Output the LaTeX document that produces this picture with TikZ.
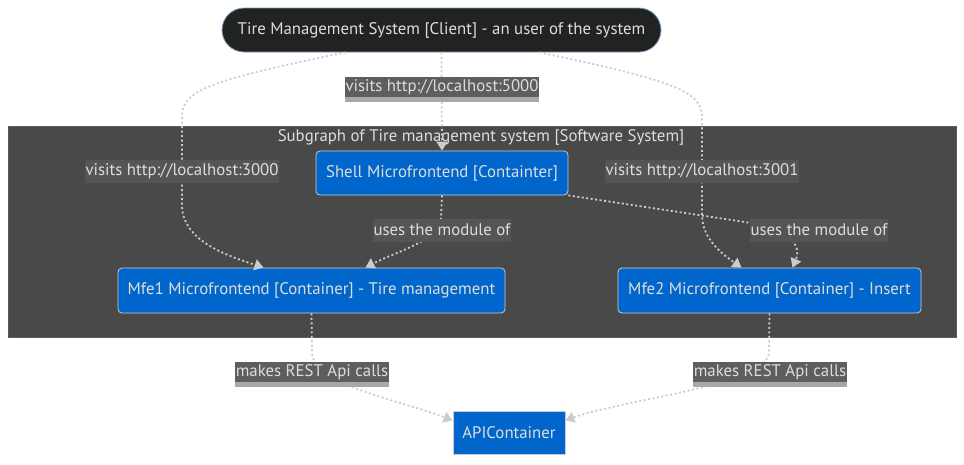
\documentclass[tikz,border=0pt]{standalone}
\usepackage{fontspec}
\setmainfont{PT Sans}
\usetikzlibrary{arrows.meta,calc}
\definecolor{clfill}{HTML}{212322}
\definecolor{clborder}{HTML}{7F9FC4}
\definecolor{cluster}{HTML}{484948}
\definecolor{clusterborder}{HTML}{5C5C5C}
\definecolor{boxblue}{HTML}{0066CC}
\definecolor{boxborder}{HTML}{C8CCD4}
\definecolor{txt}{HTML}{DDDDDD}
\definecolor{edge}{HTML}{CCCCCC}
\definecolor{lblout}{HTML}{5E5E5E}
\definecolor{lblin}{HTML}{555555}
\definecolor{stripe}{HTML}{A8A8A8}
\tikzset{
  fnt/.style={font=\fontsize{16.8}{18}\selectfont},
  box/.style={draw=boxborder, fill=boxblue, text=txt, rounded corners=4pt, line width=0.8pt, inner sep=0pt, fnt},
  conn/.style={draw=edge, line width=1.8pt, dash pattern=on 2pt off 2.5pt, -{Triangle[width=11pt,length=9pt]}},
  lblo/.style={fill=lblout, text=txt, inner xsep=0.5pt, inner ysep=0pt, minimum height=20pt, fnt},
  lbli/.style={fill=lblin, text=txt, inner xsep=0.5pt, inner ysep=0pt, minimum height=23pt, fnt},
}
\begin{document}
\begin{tikzpicture}[x=1pt,y=-1pt]
\useasboundingbox (0,0) rectangle (964,464);
% cluster
\node[draw=clusterborder, fill=cluster, line width=0.8pt, minimum width=948pt, minimum height=211pt, inner sep=0pt] (sys) at (482,231.5) {};
\node[text=txt, fnt, inner sep=0pt] (systitle) at (481,137) {Subgraph of Tire management system [Software System]};
% nodes
\node[draw=clborder, fill=clfill, text=txt, rounded corners=22pt, line width=0.8pt, minimum width=439pt, minimum height=44pt, inner sep=0pt, fnt] (cl) at (441.5,30) {Tire Management System [Client] - an user of the system};
\node[box, minimum width=252pt, minimum height=44pt] (sh) at (442,173) {Shell Microfrontend [Containter]};
\node[box, minimum width=387pt, minimum height=45pt] (m1) at (311.5,290.5) {Mfe1 Microfrontend [Container] - Tire management};
\node[box, minimum width=303pt, minimum height=45pt] (m2) at (769.5,290.5) {Mfe2 Microfrontend [Container] - Insert};
\node[box, rounded corners=0pt, minimum width=112pt, minimum height=43pt] (api) at (509,432.5) {APIContainer};
% edges
\draw[conn] (cl.south) -- (sh.north);
\draw[conn] ([xshift=-96pt]cl.south) .. controls (200,82) and (182,92) .. (182,118) -- (182,205) .. controls (182,240) and (225,255) .. ([xshift=-48pt]m1.north);
\draw[conn] ([xshift=98pt]cl.south) .. controls (680,82) and (702,92) .. (702,118) -- (702,215) .. controls (702,240) and (725,256) .. ([xshift=-28pt]m2.north);
\draw[conn] (sh.south) -- (441,218) .. controls (441,240) and (395,252) .. ([xshift=54pt]m1.north);
\draw[conn] (sh.south east) -- (745,222) .. controls (790,230) and (802,245) .. ([xshift=23pt]m2.north);
\draw[conn] (m1.south) -- (312,352) .. controls (312,385) and (400,400) .. ([yshift=12pt]api.west);
\draw[conn] (m2.south) -- (769,352) .. controls (769,385) and (620,400) .. ([yshift=12pt]api.east);
% labels
\node[lblo] (l5000) at (442,87) {visits http://localhost:5000};
\fill[stripe] (l5000.south west) rectangle ([yshift=-5pt]l5000.south east);
\node[lbli] (l3000) at (182,171) {visits http://localhost:3000};
\node[lbli] (l3001) at (702,171) {visits http://localhost:3001};
\node[lbli] (u1) at (442,230) {uses the module of};
\node[lbli] (u2) at (819,230) {uses the module of};
\node[lblo] (r1) at (312,372) {makes REST Api calls};
\fill[stripe] (r1.south west) rectangle ([yshift=-5pt]r1.south east);
\node[lblo] (r2) at (770,372) {makes REST Api calls};
\fill[stripe] (r2.south west) rectangle ([yshift=-5pt]r2.south east);
\end{tikzpicture}
\end{document}
